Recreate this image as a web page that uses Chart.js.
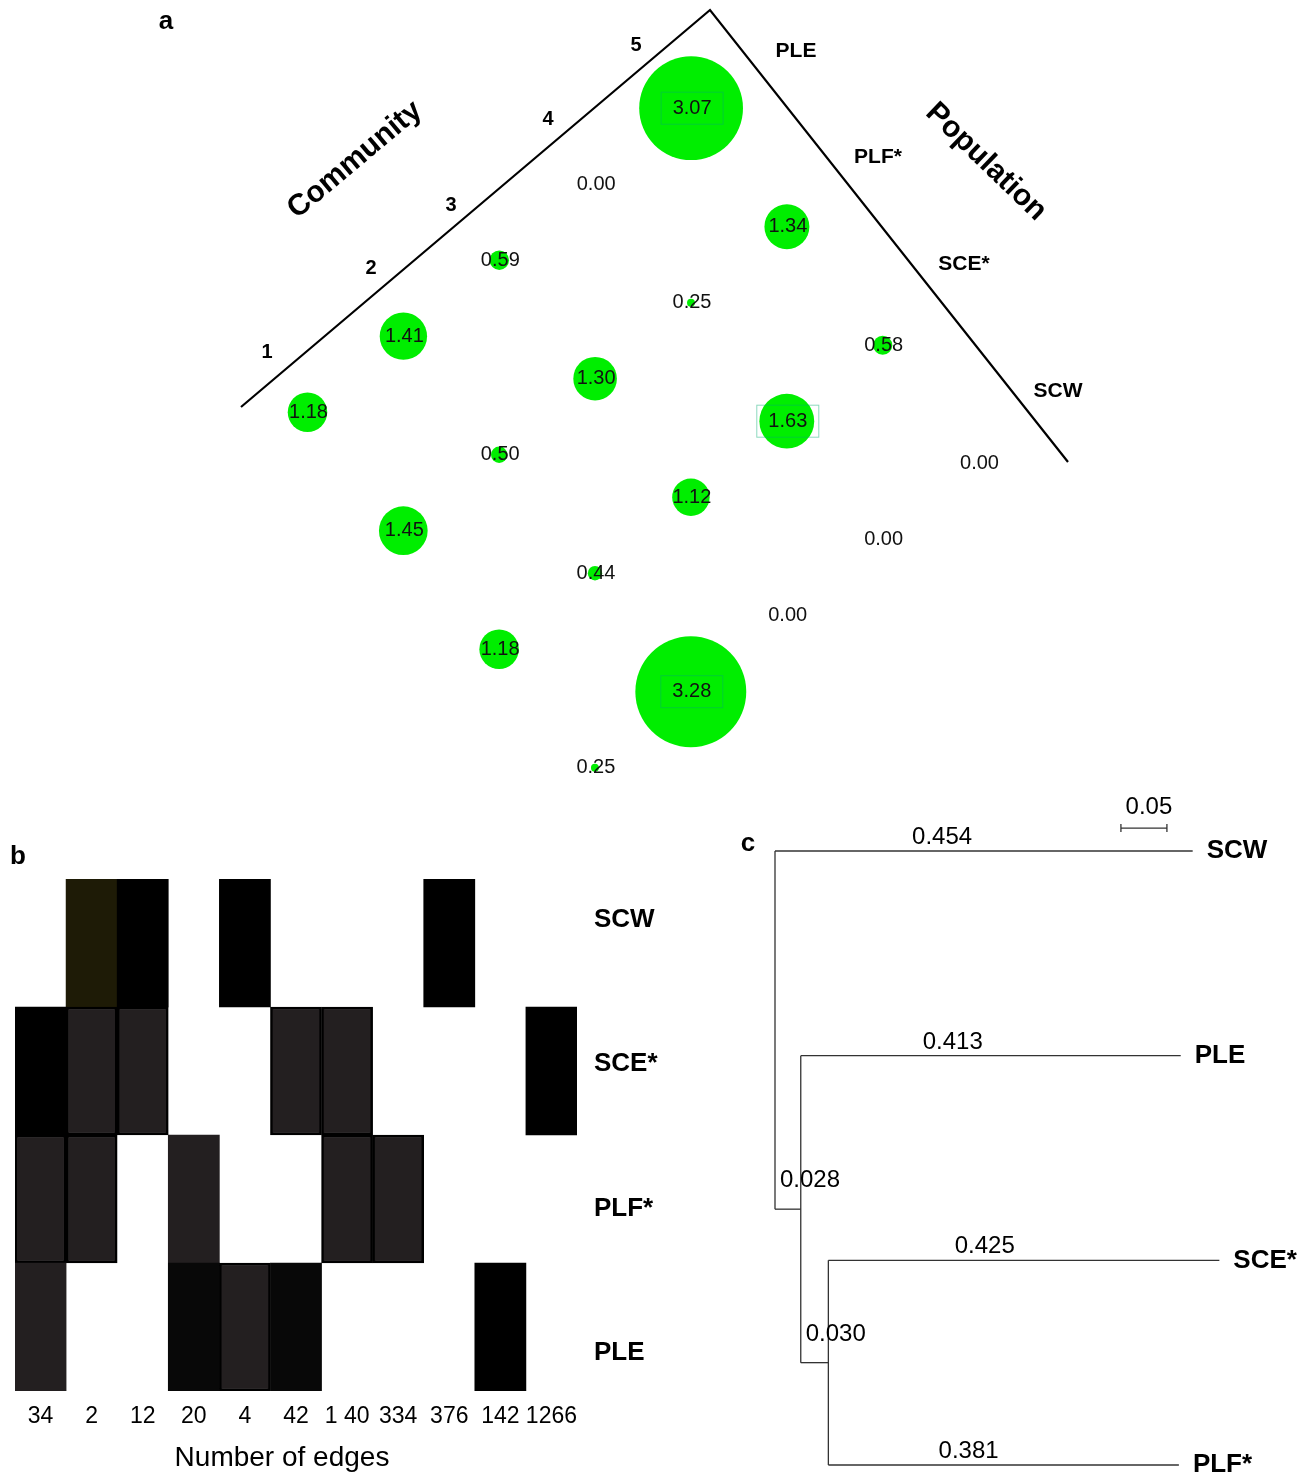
<!DOCTYPE html>
<html>
<head>
<meta charset="utf-8">
<script src="https://cdn.jsdelivr.net/npm/chart.js@4.4.1/dist/chart.umd.min.js"></script>
<style>
html, body { margin:0; padding:0; background:#fff; }
body { width:1311px; height:1477px; position:relative; overflow:hidden; }
canvas { position:absolute; }
#panelA { left:0; top:0; }
#panelB { left:0; top:840px; }
#panelC { left:700px; top:780px; }
</style>
</head>
<body>
<canvas id="panelA" width="1311" height="800"></canvas>
<canvas id="panelB" width="700" height="637"></canvas>
<canvas id="panelC" width="611" height="697"></canvas>
<script>
// ---- panel a : community x population ----
const communities = ['1', '2', '3', '4', '5'];
const populations = ['PLE', 'PLF*', 'SCE*', 'SCW'];
// value per community 1..5, one array per population
const valPLE = [1.18, 1.41, 0.59, 0.00, 3.07];
const valPLF = [1.45, 0.50, 1.30, 0.25, 1.34];
const valSCE = [1.18, 0.44, 1.12, 1.63, 0.58];
const valSCW = [0.25, 3.28, 0.00, 0.00, 0.00];
const popValues = [valPLE, valPLF, valSCE, valSCW];

// ---- panel b : number of edges ----
const edgeCounts = ['34', '2', '12', '20', '4', '42', '1 40', '334', '376', '142', '1266'];
const heatRows = ['SCW', 'SCE*', 'PLF*', 'PLE'];
// 0 empty, 1 black, 2 dark framed, 3 near black, 4 olive, 5 dark
const cellSCW = [0, 4, 1, 0, 1, 0, 0, 0, 1, 0, 0];
const cellSCE = [1, 2, 2, 0, 0, 2, 2, 0, 0, 0, 1];
const cellPLF = [2, 2, 0, 5, 0, 0, 2, 2, 0, 0, 0];
const cellPLE = [5, 0, 0, 3, 2, 3, 0, 0, 0, 1, 0];

// ---- panel c : tree ----
const nodeNames   = ['root', 'SCW', 'n1', 'PLE', 'n2', 'SCE*', 'PLF*'];
const nodeParents = [-1, 0, 0, 2, 2, 4, 4];
const branchLen   = [0, 0.454, 0.028, 0.413, 0.030, 0.425, 0.381];
const scaleBarLen = 0.05;

const FONT = '"Liberation Sans", Arial, sans-serif';

/*************** panel a ***************/
// layout of the rotated grid (canvas px)
const gridOrigin = { x: 307.5, y: 412.2 };
const stepCom = { x: 95.9, y: -76.0 };
const stepPop = { x: 95.8, y: 118.5 };
const frameA = [[241, 407], [710, 10], [1068, 462]];
const comLabelPos = [[267, 352], [371, 268], [451, 205], [548, 119], [636, 45]];
const popLabelPos = [[796, 51], [878, 157], [964, 264], [1058, 391]];

function gridPos(ci, pi) {
    return {
        x: gridOrigin.x + ci * stepCom.x + pi * stepPop.x,
        y: gridOrigin.y + ci * stepCom.y + pi * stepPop.y
    };
}
function bubbleRadius(v) {
    return v > 0 ? Math.max(0, 17 * v - 0.3) : 0;
}

let bubbles = [];
for (let pi = 0; pi < populations.length; pi++) {
    for (let ci = 0; ci < communities.length; ci++) {
        let p = gridPos(ci, pi);
        bubbles.push({ x: p.x, y: p.y, r: bubbleRadius(popValues[pi][ci]), v: popValues[pi][ci] });
    }
}

const panelAOverlay = {
    id: 'panelAOverlay',
    afterDatasetsDraw(chart) {
        const ctx = chart.ctx;
        const xs = chart.scales.x, ys = chart.scales.y;
        const px = p => [xs.getPixelForValue(p[0]), ys.getPixelForValue(p[1])];
        ctx.save();
        ctx.strokeStyle = '#000';
        ctx.lineWidth = 2.2;
        ctx.beginPath();
        frameA.forEach((p, i) => {
            let q = px(p);
            if (i) ctx.lineTo(q[0], q[1]); else ctx.moveTo(q[0], q[1]);
        });
        ctx.stroke();

        // values
        const meta = chart.getDatasetMeta(0);
        ctx.font = '20px ' + FONT;
        ctx.textAlign = 'center';
        ctx.textBaseline = 'middle';
        meta.data.forEach((el, i) => {
            let d = chart.data.datasets[0].data[i];
            if (d.v >= 1.5) {
                ctx.strokeStyle = 'rgba(0,170,110,0.45)';
                ctx.lineWidth = 1;
                ctx.strokeRect(el.x - 30, el.y - 16, 62, 32);
            }
            ctx.fillStyle = '#111';
            ctx.fillText(d.v.toFixed(2), el.x + 1, el.y);
        });

        // axis labels
        ctx.fillStyle = '#000';
        ctx.font = 'bold 20px ' + FONT;
        communities.forEach((c, i) => {
            let q = px(comLabelPos[i]);
            ctx.fillText(c, q[0], q[1]);
        });
        ctx.font = 'bold 21px ' + FONT;
        populations.forEach((p, i) => {
            let q = px(popLabelPos[i]);
            ctx.fillText(p, q[0], q[1]);
        });

        ctx.font = 'bold 30px ' + FONT;
        ctx.save();
        ctx.translate(355, 160);
        ctx.rotate(-40 * Math.PI / 180);
        ctx.fillText('Community', 0, 0);
        ctx.restore();
        ctx.save();
        ctx.translate(986, 162);
        ctx.rotate(44 * Math.PI / 180);
        ctx.fillText('Population', 0, 0);
        ctx.restore();

        ctx.font = 'bold 26px ' + FONT;
        ctx.textBaseline = 'alphabetic';
        ctx.fillText('a', 166, 29);
        ctx.restore();
    }
};

new Chart(document.getElementById('panelA'), {
    type: 'bubble',
    data: {
        datasets: [{
            data: bubbles,
            backgroundColor: '#00ee00',
            borderWidth: 0,
            hoverRadius: 0,
            clip: false
        }]
    },
    options: {
        responsive: false,
        animation: false,
        events: [],
        layout: { padding: 0, autoPadding: false },
        plugins: { legend: { display: false }, tooltip: { enabled: false } },
        scales: {
            x: { type: 'linear', display: false, min: 0, max: 1311 },
            y: { type: 'linear', display: false, min: 0, max: 800, reverse: true }
        }
    },
    plugins: [panelAOverlay]
});

/*************** panel b ***************/
const heatColors = ['rgba(0,0,0,0)', '#000000', '#231f20', '#080808', '#1e1b06', '#231f20'];
const heatBorders = [0, 0, 2.5, 0, 0, 0];
const cellRows = [cellSCW, cellSCE, cellPLF, cellPLE];

// bottom row first for stacking
let heatSets = [];
for (let r = heatRows.length - 1; r >= 0; r--) {
    heatSets.push({
        label: heatRows[r],
        data: edgeCounts.map(() => 1),
        backgroundColor: cellRows[r].map(c => heatColors[c]),
        borderColor: '#000',
        borderWidth: cellRows[r].map(c => heatBorders[c]),
        borderSkipped: false,
        barPercentage: 1,
        categoryPercentage: 1,
        yAxisID: 'y'
    });
}

const panelBOverlay = {
    id: 'panelBOverlay',
    afterDraw(chart) {
        const ctx = chart.ctx;
        ctx.save();
        ctx.fillStyle = '#000';
        ctx.textAlign = 'center';
        ctx.font = '28px ' + FONT;
        ctx.textBaseline = 'middle';
        ctx.fillText('Number of edges', 282, 618);
        ctx.font = 'bold 26px ' + FONT;
        ctx.textBaseline = 'alphabetic';
        ctx.fillText('b', 18, 24);
        ctx.restore();
    }
};

new Chart(document.getElementById('panelB'), {
    type: 'bar',
    data: { labels: edgeCounts, datasets: heatSets },
    options: {
        responsive: false,
        animation: false,
        events: [],
        layout: { padding: { left: 15, top: 39, right: 0, bottom: 0 } },
        plugins: { legend: { display: false }, tooltip: { enabled: false } },
        scales: {
            x: {
                stacked: true,
                grid: { display: false, drawTicks: false },
                border: { display: false },
                ticks: { color: '#000', font: { family: FONT, size: 23 }, padding: 12, maxRotation: 0, autoSkip: false },
                afterFit: s => { s.height = 86; }
            },
            y: { stacked: true, min: 0, max: 4, display: false },
            yLab: {
                type: 'linear',
                position: 'right',
                min: -0.263,
                max: 3.28,
                grid: { display: false, drawTicks: false },
                border: { display: false },
                afterBuildTicks: s => { s.ticks = [0, 1, 2, 3].map(v => ({ value: v })); },
                ticks: {
                    color: '#000',
                    font: { family: FONT, size: 26, weight: 'bold' },
                    padding: 17,
                    callback: v => heatRows[heatRows.length - 1 - v]
                },
                afterFit: s => { s.width = 123; }
            }
        }
    },
    plugins: [panelBOverlay]
});

/*************** panel c ***************/
let depth = [], yPos = [];
nodeNames.forEach((n, i) => {
    depth[i] = nodeParents[i] < 0 ? 0 : depth[nodeParents[i]] + branchLen[i];
});
const children = nodeNames.map((n, i) => nodeParents.map((p, j) => p === i ? j : -1).filter(j => j >= 0));
let leafCount = 0;
function placeNode(i) {
    if (!children[i].length) { yPos[i] = leafCount++; return; }
    children[i].forEach(placeNode);
    let c = children[i];
    yPos[i] = (yPos[c[0]] + yPos[c[c.length - 1]]) / 2;
}
placeNode(0);

let treeSets = [];
function segment(x0, y0, x1, y1) {
    treeSets.push({
        data: [{ x: x0, y: y0 }, { x: x1, y: y1 }],
        showLine: true,
        borderColor: '#333',
        borderWidth: 1.3,
        pointRadius: 0,
        clip: false
    });
}
nodeNames.forEach((n, i) => {
    if (nodeParents[i] >= 0) segment(depth[nodeParents[i]], yPos[i], depth[i], yPos[i]);
    let c = children[i];
    if (c.length) segment(depth[i], yPos[c[0]], depth[i], yPos[c[c.length - 1]]);
});

const panelCOverlay = {
    id: 'panelCOverlay',
    afterDatasetsDraw(chart) {
        const ctx = chart.ctx;
        const xs = chart.scales.x, ys = chart.scales.y;
        ctx.save();
        ctx.fillStyle = '#000';
        nodeNames.forEach((n, i) => {
            let p = nodeParents[i];
            if (p < 0) return;
            let x0 = xs.getPixelForValue(depth[p]);
            let x1 = xs.getPixelForValue(depth[i]);
            let y = ys.getPixelForValue(yPos[i]);
            ctx.font = '24px ' + FONT;
            ctx.textBaseline = 'alphabetic';
            if (branchLen[i] < 0.1) {
                ctx.textAlign = 'left';
                ctx.fillText(branchLen[i].toFixed(3), x0 + 5, y - 22);
            } else {
                ctx.textAlign = 'center';
                ctx.fillText(branchLen[i].toFixed(3), x0 + 0.4 * (x1 - x0), y - 7);
            }
            if (!children[i].length) {
                ctx.font = 'bold 26px ' + FONT;
                ctx.textAlign = 'left';
                ctx.textBaseline = 'middle';
                ctx.fillText(n, x1 + 14, y);
            }
        });

        // scale bar
        let bx0 = xs.getPixelForValue(0.376);
        let bx1 = xs.getPixelForValue(0.376 + scaleBarLen);
        let by = ys.getPixelForValue(-0.112);
        ctx.strokeStyle = '#333';
        ctx.lineWidth = 1.3;
        ctx.beginPath();
        ctx.moveTo(bx0, by); ctx.lineTo(bx1, by);
        ctx.moveTo(bx0, by - 4); ctx.lineTo(bx0, by + 4);
        ctx.moveTo(bx1, by - 4); ctx.lineTo(bx1, by + 4);
        ctx.stroke();
        ctx.font = '24px ' + FONT;
        ctx.textAlign = 'center';
        ctx.textBaseline = 'alphabetic';
        ctx.fillText(scaleBarLen.toFixed(2), (bx0 + bx1) / 2 + 5, by - 14);

        ctx.font = 'bold 26px ' + FONT;
        ctx.fillText('c', 48, 71);
        ctx.restore();
    }
};

new Chart(document.getElementById('panelC'), {
    type: 'scatter',
    data: { datasets: treeSets },
    options: {
        responsive: false,
        animation: false,
        events: [],
        layout: { padding: { left: 75, right: 76, top: 71, bottom: 12 }, autoPadding: false },
        plugins: { legend: { display: false }, tooltip: { enabled: false } },
        scales: {
            x: { type: 'linear', display: false, min: 0, max: 0.5 },
            y: { type: 'linear', display: false, min: 0, max: 3, reverse: true }
        }
    },
    plugins: [panelCOverlay]
});
</script>
</body>
</html>
